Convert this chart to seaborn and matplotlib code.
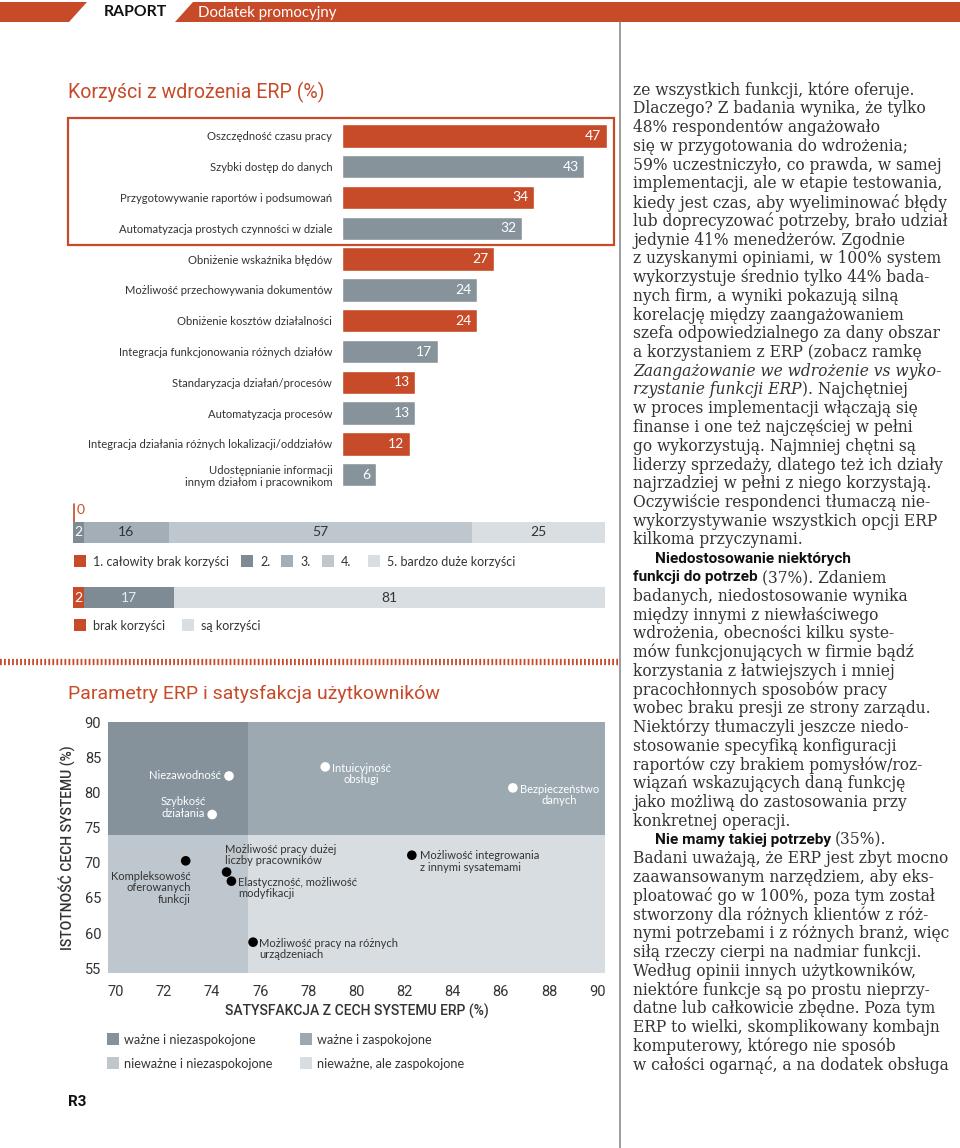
import matplotlib
matplotlib.use("Agg")
import matplotlib.pyplot as plt
import seaborn as sns
import numpy as np
import pandas as pd
from matplotlib.patches import Rectangle, Polygon

# ------------------------------------------------------------------ data
benefit_labels = [
    "Oszczędność czasu pracy",
    "Szybki dostęp do danych",
    "Przygotowywanie raportów i podsumowań",
    "Automatyzacja prostych czynności w dziale",
    "Obniżenie wskaźnika błędów",
    "Możliwość przechowywania dokumentów",
    "Obniżenie kosztów działalności",
    "Integracja funkcjonowania różnych działów",
    "Standaryzacja działań/procesów",
    "Automatyzacja procesów",
    "Integracja działania różnych lokalizacji/oddziałów",
    "Udostępnianie informacji\ninnym działom i pracownikom",
]
benefit_values = [47, 43, 34, 32, 27, 24, 24, 17, 13, 13, 12, 6]

rating_labels = ["1. całowity brak korzyści", "2.", "3.", "4.", "5. bardzo duże korzyści"]
rating_values = [0, 2, 16, 57, 25]

summary_labels = ["brak korzyści", "", "są korzyści"]
summary_values = [2, 17, 81]

feature_labels = [
    "Niezawodność",
    "Szybkość\ndziałania",
    "Intuicyjność\nobsługi",
    "Bezpieczeństwo\ndanych",
    "Kompleksowość\noferowanych\nfunkcji",
    "Możliwość pracy dużej\nliczby pracowników",
    "Elastyczność, możliwość\nmodyfikacji",
    "Możliwość integrowania\nz innymi sysatemami",
    "Możliwość pracy na różnych\nurządzeniach",
]
satisfaction = [74.7, 74.0, 78.7, 86.5, 72.9, 74.6, 74.8, 82.3, 75.7]
importance = [82.4, 76.9, 83.7, 80.7, 70.3, 68.7, 67.4, 71.1, 58.7]
satisfaction_threshold = 75.5
importance_threshold = 74.0
x_ticks = [70, 72, 74, 76, 78, 80, 82, 84, 86, 88, 90]
y_ticks = [55, 60, 65, 70, 75, 80, 85, 90]
quadrant_labels = ["ważne i niezaspokojone", "ważne i zaspokojone",
                   "nieważne i niezaspokojone", "nieważne, ale zaspokojone"]

# right-hand column of the article: (text, style, space_before)
article_lines = [
    [("ze wszystkich funkcji, które oferuje.", "r", False)],
    [("Dlaczego? Z badania wynika, że tylko", "r", False)],
    [("48% respondentów angażowało", "r", False)],
    [("się w przygotowania do wdrożenia;", "r", False)],
    [("59% uczestniczyło, co prawda, w samej", "r", False)],
    [("implementacji, ale w etapie testowania,", "r", False)],
    [("kiedy jest czas, aby wyeliminować błędy", "r", False)],
    [("lub doprecyzować potrzeby, brało udział", "r", False)],
    [("jedynie 41% menedżerów. Zgodnie", "r", False)],
    [("z uzyskanymi opiniami, w 100% system", "r", False)],
    [("wykorzystuje średnio tylko 44% bada-", "r", False)],
    [("nych firm, a wyniki pokazują silną", "r", False)],
    [("korelację między zaangażowaniem", "r", False)],
    [("szefa odpowiedzialnego za dany obszar", "r", False)],
    [("a korzystaniem z ERP (zobacz ramkę", "r", False)],
    [("Zaangażowanie we wdrożenie vs wyko-", "i", False)],
    [("rzystanie funkcji ERP", "i", False), ("). Najchętniej", "r", False)],
    [("w proces implementacji włączają się", "r", False)],
    [("finanse i one też najczęściej w pełni", "r", False)],
    [("go wykorzystują. Najmniej chętni są", "r", False)],
    [("liderzy sprzedaży, dlatego też ich działy", "r", False)],
    [("najrzadziej w pełni z niego korzystają.", "r", False)],
    [("Oczywiście respondenci tłumaczą nie-", "r", False)],
    [("wykorzystywanie wszystkich opcji ERP", "r", False)],
    [("kilkoma przyczynami.", "r", False)],
    [("Niedostosowanie niektórych", "bi", False)],
    [("funkcji do potrzeb", "b", False), ("(37%). Zdaniem", "r", True)],
    [("badanych, niedostosowanie wynika", "r", False)],
    [("między innymi z niewłaściwego", "r", False)],
    [("wdrożenia, obecności kilku syste-", "r", False)],
    [("mów funkcjonujących w firmie bądź", "r", False)],
    [("korzystania z łatwiejszych i mniej", "r", False)],
    [("pracochłonnych sposobów pracy", "r", False)],
    [("wobec braku presji ze strony zarządu.", "r", False)],
    [("Niektórzy tłumaczyli jeszcze niedo-", "r", False)],
    [("stosowanie specyfiką konfiguracji", "r", False)],
    [("raportów czy brakiem pomysłów/roz-", "r", False)],
    [("wiązań wskazujących daną funkcję", "r", False)],
    [("jako możliwą do zastosowania przy", "r", False)],
    [("konkretnej operacji.", "r", False)],
    [("Nie mamy takiej potrzeby", "bi", False), ("(35%).", "r", True)],
    [("Badani uważają, że ERP jest zbyt mocno", "r", False)],
    [("zaawansowanym narzędziem, aby eks-", "r", False)],
    [("ploatować go w 100%, poza tym został", "r", False)],
    [("stworzony dla różnych klientów z róż-", "r", False)],
    [("nymi potrzebami i z różnych branż, więc", "r", False)],
    [("siłą rzeczy cierpi na nadmiar funkcji.", "r", False)],
    [("Według opinii innych użytkowników,", "r", False)],
    [("niektóre funkcje są po prostu nieprzy-", "r", False)],
    [("datne lub całkowicie zbędne. Poza tym", "r", False)],
    [("ERP to wielki, skomplikowany kombajn", "r", False)],
    [("komputerowy, którego nie sposób", "r", False)],
    [("w całości ogarnąć, a na dodatek obsługa", "r", False)],
]

# ------------------------------------------------------------------ style
sns.set_theme(style="white")
NARROW = ["Lato", "DejaVu Sans"]
SANS = ["Roboto", "DejaVu Sans"]
SERIF = ["DejaVu Serif"]
plt.rcParams["font.family"] = NARROW
plt.rcParams["lines.scale_dashes"] = False

ORANGE = "#C74B29"
GRAY = "#87939B"
DARK = "#333333"
RATING_COLORS = [ORANGE, "#7E8B95", "#A3AEB6", "#BEC7CD", "#D9DEE2"]
SUMMARY_COLORS = [ORANGE, "#7E8B95", "#D9DEE2"]
QUAD_COLORS = ["#86929B", "#9DA9B1", "#BEC7CD", "#D8DDE1"]

W, H = 960, 1148
fig = plt.figure(figsize=(W / 100, H / 100), dpi=100)


def add_ax(l, t, w, h):
    return fig.add_axes([l / W, 1 - (t + h) / H, w / W, h / H])


bg = add_ax(0, 0, W, H)
bg.set_xlim(0, W)
bg.set_ylim(H, 0)
bg.axis("off")
bg.set_zorder(-1)

# ------------------------------------------------------------------ header
bg.add_patch(Polygon([[0, 2], [87, 2], [69, 22], [0, 22]], closed=True, color=ORANGE, lw=0))
bg.add_patch(Polygon([[193, 2], [960, 2], [960, 22], [175, 22]], closed=True, color=ORANGE, lw=0))
bg.text(104, 12.5, "RAPORT", fontsize=11.3, weight="bold", color="#111111", va="center", family=NARROW)
bg.text(198, 12.5, "Dodatek promocyjny", fontsize=10.8, color="white", va="center", family=NARROW)
bg.plot([620, 620], [22, H], color="#8c8c8c", lw=1.2)

# ------------------------------------------------------------------ chart 1: benefits
bg.text(68, 92, "Korzyści z wdrożenia ERP (%)", color=ORANGE, fontsize=14.1, va="center", family=SANS)
bg.add_patch(Rectangle((68, 118), 546, 127, fill=False, ec=ORANGE, lw=1.6))

ax1 = add_ax(342, 120.5, 278, 369.6)
ax1.set_facecolor("none")
df_b = pd.DataFrame({"label": benefit_labels, "value": benefit_values})
pal_b = {lab: (ORANGE if i % 2 == 0 else GRAY) for i, lab in enumerate(benefit_labels)}
sns.barplot(data=df_b, x="value", y="label", hue="label", palette=pal_b, legend=False,
            width=0.76, orient="h", saturation=1, ax=ax1)
ax1.set_xlim(0, 49.3)
ax1.set_ylim(len(benefit_labels) - 0.5, -0.5)
for s in ax1.spines.values():
    s.set_visible(False)
ax1.set_xticks([])
ax1.set_xlabel("")
ax1.set_ylabel("")
ax1.tick_params(axis="y", length=0, pad=7, labelsize=8.1, labelcolor=DARK)
for lbl in ax1.get_yticklabels():
    lbl.set_fontfamily(NARROW)
for i, v in enumerate(benefit_values):
    ax1.text(v - 1.0, i, str(v), ha="right", va="center", color="white", fontsize=10, family=NARROW)

# ------------------------------------------------------------------ chart 2: stacked ratings
def stacked(ax, values, colors, label_colors):
    lefts = np.concatenate([[0], np.cumsum(values)[:-1]])
    ax.barh([0] * len(values), values, left=lefts, color=colors, height=1.0, lw=0)
    ax.set_xlim(0, 100)
    ax.set_ylim(-0.5, 0.5)
    ax.axis("off")
    for l, v, c in zip(lefts, values, label_colors):
        if v > 0:
            ax.text(l + v / 2, 0, str(v), ha="center", va="center", color=c, fontsize=10, family=NARROW)


ax2 = add_ax(73, 522, 532, 21)
stacked(ax2, rating_values, RATING_COLORS, ["white", "white", DARK, DARK, DARK])
bg.plot([74, 74], [504, 522], color=ORANGE, lw=1.2)
bg.text(77, 510, str(rating_values[0]), color=ORANGE, fontsize=10, va="center", family=NARROW)

ax3 = add_ax(73, 587, 532, 21)
stacked(ax3, summary_values, SUMMARY_COLORS, ["white", "#E8ECEF", DARK])

leg1_x = [74, 241, 281, 322, 368]
for x, lab, c in zip(leg1_x, rating_labels, RATING_COLORS):
    bg.add_patch(Rectangle((x, 555), 12, 12, color=c, lw=0))
    bg.text(x + 19, 561.5, lab, fontsize=9.0, color=DARK, va="center", family=NARROW)
leg2_x = [74, 182]
for x, lab, c in zip(leg2_x, [summary_labels[0], summary_labels[2]], [SUMMARY_COLORS[0], SUMMARY_COLORS[2]]):
    bg.add_patch(Rectangle((x, 619), 12, 12, color=c, lw=0))
    bg.text(x + 19, 625.5, lab, fontsize=9.0, color=DARK, va="center", family=NARROW)

# stripe separator
bg.plot([0, 620], [662, 662], color=ORANGE, lw=4.5, linestyle=(0, (1.3, 1.6)), solid_capstyle="butt")

# ------------------------------------------------------------------ chart 3: scatter
bg.text(68, 694, "Parametry ERP i satysfakcja użytkowników", color=ORANGE, fontsize=14, va="center", family=SANS)

ax4 = add_ax(108, 722, 497, 251)
xlim = (69.67, 90.33)
ylim = (54.3, 90.1)
ax4.set_xlim(*xlim)
ax4.set_ylim(*ylim)
quads = [
    (xlim[0], importance_threshold, satisfaction_threshold, ylim[1]),
    (satisfaction_threshold, importance_threshold, xlim[1], ylim[1]),
    (xlim[0], ylim[0], satisfaction_threshold, importance_threshold),
    (satisfaction_threshold, ylim[0], xlim[1], importance_threshold),
]
for (x0, y0, x1, y1), c in zip(quads, QUAD_COLORS):
    ax4.add_patch(Rectangle((x0, y0), x1 - x0, y1 - y0, color=c, lw=0, zorder=0))

df_s = pd.DataFrame({"sat": satisfaction, "imp": importance, "label": feature_labels})
df_s["grp"] = np.where(df_s["imp"] >= importance_threshold, "upper", "lower")
sns.scatterplot(data=df_s, x="sat", y="imp", hue="grp", palette={"upper": "white", "lower": "black"},
                s=48, edgecolor="none", legend=False, ax=ax4, zorder=3)

# label placement: (dx px, dy px up, ha, multialignment)
label_layout = [
    (-8, 0, "right", "right"),
    (-6, 7, "right", "center"),
    (7, -7, "left", "center"),
    (7, -7, "left", "center"),
    (5, -27, "right", "right"),
    (-2, 17, "left", "left"),
    (7, -7, "left", "left"),
    (8, -6.5, "left", "left"),
    (6, -7, "left", "left"),
]
for (_, r), (dx, dy, ha, ma) in zip(df_s.iterrows(), label_layout):
    col = "white" if r["grp"] == "upper" else DARK
    ax4.annotate(r["label"], (r["sat"], r["imp"]), xytext=(dx, dy), textcoords="offset pixels",
                 ha=ha, va="center", multialignment=ma, color=col, fontsize=8.0,
                 linespacing=1.05, family=NARROW, zorder=4)

ax4.set_xticks(x_ticks)
ax4.set_yticks(y_ticks)
ax4.set_xlabel("")
ax4.set_ylabel("")
for s in ax4.spines.values():
    s.set_visible(False)
ax4.tick_params(axis="x", length=0, pad=9, labelsize=10.5, labelcolor=DARK)
ax4.tick_params(axis="y", length=0, pad=5, labelsize=10.5, labelcolor=DARK)
for lbl in ax4.get_xticklabels() + ax4.get_yticklabels():
    lbl.set_fontfamily(SANS)

bg.text(67, 848, "ISTOTNOŚĆ CECH SYSTEMU (%)", rotation=90, ha="center", va="center",
        fontsize=10, weight="medium", color=DARK, family=SANS)
bg.text(357, 1011, "SATYSFAKCJA Z CECH SYSTEMU ERP (%)", ha="center", va="center",
        fontsize=10, weight="medium", color=DARK, family=SANS)

leg3 = [(107, 1039), (300, 1039), (107, 1063), (300, 1063)]
for (x, y), lab, c in zip(leg3, quadrant_labels, QUAD_COLORS):
    bg.add_patch(Rectangle((x, y - 6), 12, 12, color=c, lw=0))
    bg.text(x + 17, y + 0.5, lab, fontsize=9.1, color=DARK, va="center", family=NARROW)

bg.text(68, 1102, "R3", fontsize=11, weight="bold", color="#111111", va="center", family=SANS)

# ------------------------------------------------------------------ article column
renderer = fig.canvas.get_renderer()
styles = {
    "r": dict(family=SERIF, fontsize=11.2, color=DARK),
    "i": dict(family=SERIF, fontsize=11.2, color=DARK, style="italic"),
    "b": dict(family=SANS, fontsize=11.1, color="#111111", weight="bold"),
    "bi": dict(family=SANS, fontsize=11.1, color="#111111", weight="bold"),
}
y = 90
for segs in article_lines:
    x = 633 + (22 if segs[0][1] == "bi" else 0)
    for txt, st, sp in segs:
        if sp:
            x += 4
        t = bg.text(x, y, txt, va="center", ha="left", **styles[st])
        bb = t.get_window_extent(renderer=renderer)
        x += bb.width
    y += 18.75

fig.savefig("out.png", dpi=100)
